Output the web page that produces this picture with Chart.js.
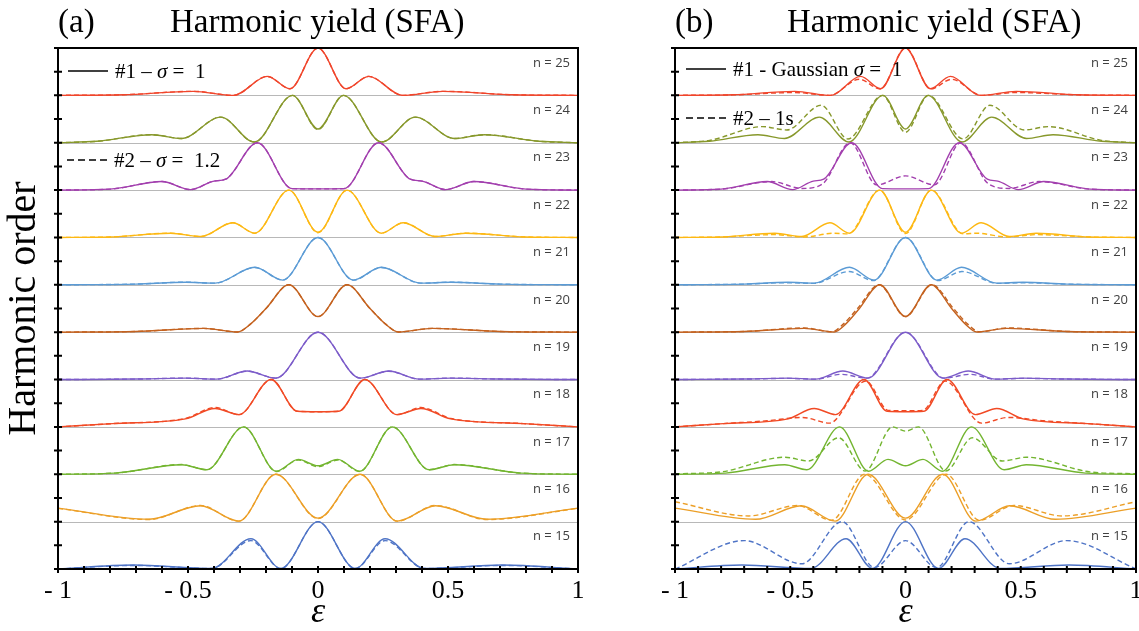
<!DOCTYPE html>
<html>
<head>
<meta charset="utf-8">
<title>Harmonic yield (SFA)</title>
<script src="https://cdn.jsdelivr.net/npm/chart.js@4.4.0/dist/chart.umd.min.js"></script>
<style>
  html, body { margin: 0; padding: 0; background: #fff; }
  #wrap { position: relative; width: 1139px; height: 631px; overflow: hidden; }
  canvas { position: absolute; top: 0; }
  #panelA { left: 0; }
  #panelB { left: 600px; }
</style>
</head>
<body>
<div id="wrap">
  <canvas id="panelA" width="600" height="631"></canvas>
  <canvas id="panelB" width="539" height="631"></canvas>
</div>
<script>
/* ── Data: [epsilon, normalised yield] ──── */
var harmonicOrders = [15, 16, 17, 18, 19, 20, 21, 22, 23, 24, 25];
var rowColors = ['#4f74c6', '#ec9f27', '#73b530', '#f14a25', '#7c5cc9', '#c4621f',
                 '#5b9bd5', '#fdb813', '#a23fae', '#87982b', '#f0452b'];
var xTickValues = [-1, -0.5, 0, 0.5, 1];
var xTickLabels = ['- 1', '- 0.5', '0', '0.5', '1'];

/* #1 - Gaussian sigma = 1 (solid, same curve in both panels) */
var solid15 = [[-1,0],[-0.71,0.085],[-0.41,0.01],[-0.258,0.64],[-0.143,0.01],[0,1],[0.143,0.01],[0.258,0.64],[0.41,0.01],[0.71,0.085],[1,0]];
var solid16 = [[-1,0.285],[-0.65,0.05],[-0.452,0.335],[-0.305,0.01],[-0.162,1],[0,0.075],[0.162,1],[0.305,0.01],[0.452,0.335],[0.65,0.05],[1,0.285]];
var solid17 = [[-1,0],[-0.78,0.025],[-0.524,0.2],[-0.428,0.095],[-0.286,1],[-0.16,0.065],[-0.076,0.315],[0,0.18],[0.076,0.315],[0.16,0.065],[0.286,1],[0.428,0.095],[0.524,0.2],[0.78,0.025],[1,0]];
var solid18 = [[-1,0],[-0.79,0.07],[-0.51,0.17],[-0.396,0.39],[-0.304,0.26],[-0.18,1],[-0.08,0.33],[0,0.32],[0.08,0.33],[0.18,1],[0.304,0.26],[0.396,0.39],[0.51,0.17],[0.79,0.07],[1,0]];
var solid19 = [[-1,0],[-0.7,0.01],[-0.51,0.03],[-0.39,0.008],[-0.272,0.18],[-0.163,0.03],[0,1],[0.163,0.03],[0.272,0.18],[0.39,0.008],[0.51,0.03],[0.7,0.01],[1,0]];
var solid20 = [[-1,0],[-0.7,0.015],[-0.44,0.08],[-0.31,0.005],[-0.26,0.17],[-0.2,0.5],[-0.112,1],[0,0.33],[0.112,1],[0.2,0.5],[0.26,0.17],[0.31,0.005],[0.44,0.08],[0.7,0.015],[1,0]];
var solid21 = [[-1,0],[-0.7,0.015],[-0.51,0.055],[-0.396,0.035],[-0.243,0.37],[-0.136,0.1],[0,1],[0.136,0.1],[0.243,0.37],[0.396,0.035],[0.51,0.055],[0.7,0.015],[1,0]];
var solid22 = [[-1,0],[-0.8,0.01],[-0.567,0.09],[-0.45,0.02],[-0.328,0.31],[-0.243,0.09],[-0.112,1],[0,0.11],[0.112,1],[0.243,0.09],[0.328,0.31],[0.45,0.02],[0.567,0.09],[0.8,0.01],[1,0]];
var solid23 = [[-1,0],[-0.8,0.02],[-0.6,0.18],[-0.49,0.01],[-0.4,0.19],[-0.355,0.23],[-0.233,1],[-0.1,0.03],[0,0.025],[0.1,0.03],[0.233,1],[0.355,0.23],[0.4,0.19],[0.49,0.01],[0.6,0.18],[0.8,0.02],[1,0]];
var solid24 = [[-1,0],[-0.85,0.03],[-0.64,0.17],[-0.525,0.09],[-0.374,0.54],[-0.245,0.015],[-0.098,1],[0,0.29],[0.098,1],[0.245,0.015],[0.374,0.54],[0.525,0.09],[0.64,0.17],[0.85,0.03],[1,0]];
var solid25 = [[-1,0],[-0.75,0.012],[-0.48,0.085],[-0.325,0],[-0.195,0.4],[-0.108,0.14],[0,1],[0.108,0.14],[0.195,0.4],[0.325,0],[0.48,0.085],[0.75,0.012],[1,0]];

/* (a) #2 - sigma = 1.2 (dashed) */
var dashA15 = [[-1,0],[-0.71,0.075],[-0.41,0.01],[-0.258,0.6],[-0.143,0.01],[0,1],[0.143,0.01],[0.258,0.6],[0.41,0.01],[0.71,0.075],[1,0]];
var dashA16 = [[-1,0.28],[-0.65,0.045],[-0.452,0.34],[-0.305,0.01],[-0.162,1],[0,0.065],[0.162,1],[0.305,0.01],[0.452,0.34],[0.65,0.045],[1,0.28]];
var dashA17 = [[-1,0],[-0.78,0.025],[-0.524,0.205],[-0.428,0.095],[-0.286,1],[-0.16,0.06],[-0.076,0.3],[0,0.16],[0.076,0.3],[0.16,0.06],[0.286,1],[0.428,0.095],[0.524,0.205],[0.78,0.025],[1,0]];
var dashA18 = [[-1,0],[-0.79,0.07],[-0.51,0.18],[-0.396,0.41],[-0.304,0.26],[-0.18,1],[-0.08,0.33],[0,0.32],[0.08,0.33],[0.18,1],[0.304,0.26],[0.396,0.41],[0.51,0.18],[0.79,0.07],[1,0]];
var dashA19 = [[-1,0],[-0.7,0.01],[-0.51,0.03],[-0.39,0.008],[-0.272,0.175],[-0.163,0.03],[0,1],[0.163,0.03],[0.272,0.175],[0.39,0.008],[0.51,0.03],[0.7,0.01],[1,0]];
var dashA20 = [[-1,0],[-0.7,0.015],[-0.44,0.08],[-0.31,0.005],[-0.26,0.17],[-0.2,0.5],[-0.112,1],[0,0.33],[0.112,1],[0.2,0.5],[0.26,0.17],[0.31,0.005],[0.44,0.08],[0.7,0.015],[1,0]];
var dashA21 = [[-1,0],[-0.7,0.015],[-0.51,0.055],[-0.396,0.035],[-0.243,0.365],[-0.136,0.1],[0,1],[0.136,0.1],[0.243,0.365],[0.396,0.035],[0.51,0.055],[0.7,0.015],[1,0]];
var dashA22 = [[-1,0],[-0.8,0.01],[-0.567,0.09],[-0.45,0.02],[-0.328,0.31],[-0.243,0.09],[-0.112,1],[0,0.1],[0.112,1],[0.243,0.09],[0.328,0.31],[0.45,0.02],[0.567,0.09],[0.8,0.01],[1,0]];
var dashA23 = [[-1,0],[-0.8,0.02],[-0.6,0.18],[-0.49,0.01],[-0.4,0.19],[-0.355,0.23],[-0.233,1],[-0.1,0.03],[0,0.025],[0.1,0.03],[0.233,1],[0.355,0.23],[0.4,0.19],[0.49,0.01],[0.6,0.18],[0.8,0.02],[1,0]];
var dashA24 = [[-1,0],[-0.85,0.03],[-0.64,0.17],[-0.525,0.09],[-0.374,0.54],[-0.245,0.015],[-0.098,1],[0,0.28],[0.098,1],[0.245,0.015],[0.374,0.54],[0.525,0.09],[0.64,0.17],[0.85,0.03],[1,0]];
var dashA25 = [[-1,0],[-0.75,0.012],[-0.48,0.085],[-0.325,0],[-0.195,0.4],[-0.108,0.14],[0,1],[0.108,0.14],[0.195,0.4],[0.325,0],[0.48,0.085],[0.75,0.012],[1,0]];

/* (b) #2 - 1s (dashed) */
var dashB15 = [[-1,0],[-0.7,0.6],[-0.45,0.11],[-0.275,1],[-0.135,0.03],[0,0.6],[0.135,0.03],[0.275,1],[0.45,0.11],[0.7,0.6],[1,0]];
var dashB16 = [[-1,0.42],[-0.68,0.12],[-0.47,0.34],[-0.32,0.03],[-0.177,1],[0,0.035],[0.177,1],[0.32,0.03],[0.47,0.34],[0.68,0.12],[1,0.42]];
var dashB17 = [[-1,0.01],[-0.8,0.05],[-0.524,0.36],[-0.42,0.28],[-0.29,0.77],[-0.175,0.07],[-0.056,1],[0,0.91],[0.056,1],[0.175,0.07],[0.29,0.77],[0.42,0.28],[0.524,0.36],[0.8,0.05],[1,0.01]];
var dashB18 = [[-1,0],[-0.79,0.07],[-0.6,0.13],[-0.446,0.2],[-0.33,0.08],[-0.172,0.97],[-0.075,0.35],[0,0.34],[0.075,0.35],[0.172,0.97],[0.33,0.08],[0.446,0.2],[0.6,0.13],[0.79,0.07],[1,0]];
var dashB19 = [[-1,0],[-0.7,0.01],[-0.51,0.025],[-0.39,0.008],[-0.28,0.11],[-0.168,0.03],[0,1],[0.168,0.03],[0.28,0.11],[0.39,0.008],[0.51,0.025],[0.7,0.01],[1,0]];
var dashB20 = [[-1,0],[-0.7,0.015],[-0.44,0.09],[-0.32,0.008],[-0.27,0.17],[-0.208,0.5],[-0.115,1],[0,0.33],[0.115,1],[0.208,0.5],[0.27,0.17],[0.32,0.008],[0.44,0.09],[0.7,0.015],[1,0]];
var dashB21 = [[-1,0],[-0.7,0.015],[-0.51,0.045],[-0.4,0.03],[-0.245,0.28],[-0.14,0.09],[0,1],[0.14,0.09],[0.245,0.28],[0.4,0.03],[0.51,0.045],[0.7,0.015],[1,0]];
var dashB22 = [[-1,0],[-0.8,0.01],[-0.57,0.06],[-0.44,0.01],[-0.31,0.09],[-0.25,0.075],[-0.112,1],[0,0.08],[0.112,1],[0.25,0.075],[0.31,0.09],[0.44,0.01],[0.57,0.06],[0.8,0.01],[1,0]];
var dashB23 = [[-1,0],[-0.8,0.02],[-0.58,0.18],[-0.45,0.035],[-0.36,0.13],[-0.24,1],[-0.125,0.11],[0,0.3],[0.125,0.11],[0.24,1],[0.36,0.13],[0.45,0.035],[0.58,0.18],[0.8,0.02],[1,0]];
var dashB24 = [[-1,0],[-0.85,0.05],[-0.62,0.34],[-0.515,0.27],[-0.366,0.79],[-0.25,0.08],[-0.1,1],[0,0.22],[0.1,1],[0.25,0.08],[0.366,0.79],[0.515,0.27],[0.62,0.34],[0.85,0.05],[1,0]];
var dashB25 = [[-1,0],[-0.75,0.01],[-0.48,0.06],[-0.33,0],[-0.2,0.34],[-0.11,0.135],[0,1],[0.11,0.135],[0.2,0.34],[0.33,0],[0.48,0.06],[0.75,0.01],[1,0]];

(function () {
  'use strict';

  var SERIF = "'Liberation Serif', 'Times New Roman', serif";
  var SANS = "'Open Sans', 'DejaVu Sans', sans-serif";

  var solidCurves = [solid15, solid16, solid17, solid18, solid19, solid20, solid21, solid22, solid23, solid24, solid25];
  var dashCurvesA = [dashA15, dashA16, dashA17, dashA18, dashA19, dashA20, dashA21, dashA22, dashA23, dashA24, dashA25];
  var dashCurvesB = [dashB15, dashB16, dashB17, dashB18, dashB19, dashB20, dashB21, dashB22, dashB23, dashB24, dashB25];

  /* ── Each harmonic sits in its own row: row i spans y = i..i+1 ── */
  function toPoints(curve, row) {
    return curve.map(function (p) { return { x: p[0], y: p[1] + row }; });
  }

  function buildDatasets(dashCurves) {
    var sets = [];
    harmonicOrders.forEach(function (n, i) {
      var common = {
        borderColor: rowColors[i],
        borderWidth: 1.4,
        pointRadius: 0,
        fill: false,
        cubicInterpolationMode: 'monotone'
      };
      sets.push(Object.assign({ label: '#1 n=' + n, data: toPoints(solidCurves[i], i) }, common));
      sets.push(Object.assign({ label: '#2 n=' + n, data: toPoints(dashCurves[i], i), borderDash: [5, 3] }, common));
    });
    return sets;
  }

  /* ── Legend entry: line sample + text with italic sigma ───── */
  function drawLegendItem(ctx, x, y, dashed, parts) {
    ctx.save();
    ctx.strokeStyle = '#000';
    ctx.lineWidth = 1.5;
    ctx.setLineDash(dashed ? [7, 4] : []);
    ctx.beginPath(); ctx.moveTo(x, y); ctx.lineTo(x + 40, y); ctx.stroke();
    ctx.setLineDash([]);
    ctx.fillStyle = '#000';
    ctx.textBaseline = 'middle';
    ctx.textAlign = 'left';
    var tx = x + 47;
    parts.forEach(function (p) {
      ctx.font = (p[1] ? 'italic ' : '') + '21px ' + SERIF;
      ctx.fillText(p[0], tx, y + 1);
      tx += ctx.measureText(p[0]).width;
    });
    ctx.restore();
  }

  function decorPlugin(opts) {
    return {
      id: 'panelDecor',
      beforeDatasetsDraw: function (chart) {
        var ctx = chart.ctx, a = chart.chartArea, ys = chart.scales.y;
        ctx.save();
        ctx.strokeStyle = '#b8b8b8';
        ctx.lineWidth = 1;
        for (var k = 1; k < harmonicOrders.length; k++) {
          var py = Math.round(ys.getPixelForValue(k)) + 0.5;
          ctx.beginPath(); ctx.moveTo(a.left, py); ctx.lineTo(a.right, py); ctx.stroke();
        }
        ctx.restore();
      },
      afterDraw: function (chart) {
        var ctx = chart.ctx, a = chart.chartArea, xs = chart.scales.x, ys = chart.scales.y;
        ctx.save();

        /* frame */
        ctx.strokeStyle = '#000';
        ctx.lineWidth = 2;
        ctx.strokeRect(a.left, a.top, a.right - a.left, a.bottom - a.top);

        /* minor ticks crossing the axes */
        ctx.beginPath();
        for (var i = 0; i <= 20; i++) {
          var px = xs.getPixelForValue(-1 + i * 0.1);
          ctx.moveTo(px, a.bottom - 3); ctx.lineTo(px, a.bottom + 4);
        }
        for (var j = 0; j <= harmonicOrders.length * 2; j++) {
          var py = ys.getPixelForValue(j * 0.5);
          ctx.moveTo(a.left - 4, py); ctx.lineTo(a.left + 4, py);
        }
        ctx.stroke();

        /* row labels */
        ctx.fillStyle = '#404040';
        ctx.font = '13px ' + SANS;
        ctx.textAlign = 'right';
        ctx.textBaseline = 'middle';
        harmonicOrders.forEach(function (n, k) {
          ctx.fillText('n = ' + n, a.right - 8, ys.getPixelForValue(k + 1) + 15);
        });

        /* panel title */
        ctx.fillStyle = '#000';
        ctx.font = '33px ' + SERIF;
        ctx.textAlign = 'left';
        ctx.textBaseline = 'alphabetic';
        ctx.fillText(opts.tag, a.left, 32);
        ctx.fillText('Harmonic yield (SFA)', a.left + 112, 32);
        ctx.restore();

        opts.legend.forEach(function (item) {
          drawLegendItem(ctx, a.left + item.dx, a.top + item.dy, item.dashed, item.parts);
        });
      }
    };
  }

  function makeChart(id, dashCurves, opts) {
    return new Chart(document.getElementById(id), {
      type: 'line',
      data: { datasets: buildDatasets(dashCurves) },
      options: {
        responsive: false,
        animation: false,
        devicePixelRatio: 1,
        layout: { padding: opts.padding },
        plugins: { legend: { display: false }, tooltip: { enabled: false } },
        scales: {
          x: {
            type: 'linear',
            min: -1,
            max: 1,
            grid: { display: false, drawTicks: false },
            border: { display: false },
            afterBuildTicks: function (s) {
              s.ticks = xTickValues.map(function (v) { return { value: v }; });
            },
            ticks: {
              autoSkip: false,
              maxRotation: 0,
              padding: 7,
              color: '#000',
              font: { family: SERIF, size: 26 },
              callback: function (v) { return xTickLabels[xTickValues.indexOf(v)]; }
            },
            title: {
              display: true,
              text: 'ε',
              color: '#000',
              font: { family: SERIF, size: 36, style: 'italic', lineHeight: 1.0 },
              padding: 0
            },
            afterFit: function (s) { s.height = 62; s.paddingLeft = 0; s.paddingRight = 0; }
          },
          y: {
            type: 'linear',
            min: 0,
            max: harmonicOrders.length,
            display: opts.yTitle ? true : false,
            grid: { display: false },
            border: { display: false },
            ticks: { display: false },
            title: {
              display: !!opts.yTitle,
              text: opts.yTitle || '',
              color: '#000',
              font: { family: SERIF, size: 40 },
              padding: 0
            },
            afterFit: function (s) { s.width = 58; s.paddingTop = 0; s.paddingBottom = 0; }
          }
        }
      },
      plugins: [decorPlugin(opts)]
    });
  }

  makeChart('panelA', dashCurvesA, {
    tag: '(a)',
    yTitle: 'Harmonic order',
    padding: { left: 0, right: 22, top: 48, bottom: 0 },
    legend: [
      { dx: 10, dy: 23, dashed: false, parts: [['#1 – ', false], ['σ', true], [' =  1', false]] },
      { dx: 9, dy: 112, dashed: true, parts: [['#2 – ', false], ['σ', true], [' =  1.2', false]] }
    ]
  });

  makeChart('panelB', dashCurvesB, {
    tag: '(b)',
    yTitle: null,
    padding: { left: 17, right: 3, top: 48, bottom: 0 },
    legend: [
      { dx: 11, dy: 21, dashed: false, parts: [['#1 - Gaussian ', false], ['σ', true], [' =  1', false]] },
      { dx: 11, dy: 70, dashed: true, parts: [['#2 – 1s', false]] }
    ]
  });
})();
</script>
</body>
</html>
